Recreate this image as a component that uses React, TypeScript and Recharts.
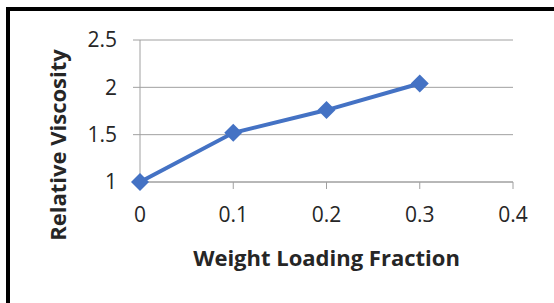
import React from 'react';
import { LineChart, Line, XAxis, YAxis, CartesianGrid } from 'recharts';

const loading = [0, 0.1, 0.2, 0.3];
const viscosity = [1.0, 1.52, 1.76, 2.04];
const xTicks = [0, 0.1, 0.2, 0.3, 0.4];
const yTicks = [1, 1.5, 2, 2.5];
const yMinorTicks = [1, 1.1, 1.2, 1.3, 1.4, 1.5, 1.6, 1.7, 1.8, 1.9, 2, 2.1, 2.2, 2.3, 2.4, 2.5];

const data = loading.map((x, i) => ({ x, y: viscosity[i] }));

const FONT = '"Open Sans", sans-serif';
const AXIS_GREY = '#a0a0a0';
const BLUE = '#4472c4';
const TEXT = '#262626';

const Diamond = (props: any) => {
  const { cx, cy } = props;
  if (cx == null || cy == null) return null;
  const r = 9;
  return (
    <path
      d={`M${cx},${cy - r} L${cx + r},${cy} L${cx},${cy + r} L${cx - r},${cy} Z`}
      fill={BLUE}
      stroke="none"
    />
  );
};

// axis titles sit a bit off the plot centre, like the Excel original
const XTitle = (props: any) => {
  const { viewBox } = props;
  const cx = viewBox.x + viewBox.width / 2;
  return (
    <text x={cx} y={266} textAnchor="middle" fill={TEXT} fontSize={22} fontWeight={700} fontFamily={FONT}>
      Weight Loading Fraction
    </text>
  );
};

const YTitle = () => (
  <text
    x={66}
    y={145}
    transform="rotate(-90, 66, 145)"
    textAnchor="middle"
    fill={TEXT}
    fontSize={22}
    fontWeight={700}
    fontFamily={FONT}
  >
    Relative Viscosity
  </text>
);

export default function App() {
  return (
    <div style={{ position: 'fixed', left: 0, top: 0, width: 554, height: 303, overflow: 'hidden', background: '#fff' }}>
      <div style={{ position: 'absolute', left: 6, top: 7, width: 700, height: 500, border: '4px solid #000' }} />
      <div style={{ position: 'absolute', left: 0, top: 0 }}>
        <LineChart width={554} height={303} data={data} margin={{ top: 40, right: 41, bottom: 91, left: 0 }}>
          <CartesianGrid vertical={false} stroke={AXIS_GREY} />
          <XAxis
            dataKey="x"
            type="number"
            domain={[0, 0.4]}
            ticks={xTicks}
            height={30}
            tickSize={7}
            tickMargin={18}
            axisLine={{ stroke: AXIS_GREY }}
            tickLine={{ stroke: AXIS_GREY }}
            tick={{ fill: TEXT, fontSize: 21, fontFamily: FONT }}
            label={{ content: <XTitle /> }}
          />
          <YAxis
            type="number"
            domain={[1, 2.5]}
            ticks={yTicks}
            width={140}
            tickSize={7}
            tickMargin={16}
            axisLine={{ stroke: AXIS_GREY }}
            tickLine={{ stroke: AXIS_GREY }}
            tick={{ fill: TEXT, fontSize: 21, fontFamily: FONT }}
            label={{ content: <YTitle /> }}
          />
          <YAxis
            yAxisId="minor"
            type="number"
            domain={[1, 2.5]}
            ticks={yMinorTicks}
            mirror
            tick={false}
            tickSize={7}
            axisLine={false}
            tickLine={{ stroke: AXIS_GREY }}
          />
          <Line
            dataKey="y"
            stroke={BLUE}
            strokeWidth={4}
            dot={<Diamond />}
            activeDot={false}
            isAnimationActive={false}
          />
        </LineChart>
      </div>
    </div>
  );
}
